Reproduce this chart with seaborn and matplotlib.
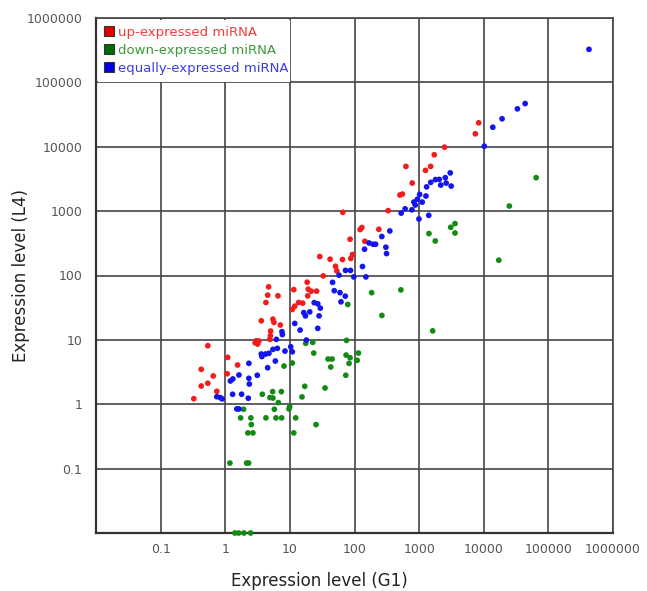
import matplotlib
matplotlib.use("Agg")
import matplotlib.pyplot as plt
from matplotlib.lines import Line2D
from matplotlib.patches import Rectangle
import seaborn as sns
import pandas as pd

# ---- data ----
up_x = [8360, 7410, 2470, 1715, 624, 1508, 1253, 782, 551, 504, 332, 65.9, 130, 122, 238,
        85.5, 144.5, 29.0, 41.9, 65.2, 87.7, 93.1, 50.8, 53.2, 32.8, 18.5, 19.2, 21.4, 25.9,
        18.9, 15.8, 11.5, 13.7, 11.9, 10.9, 4.69, 4.53, 6.54, 4.26, 5.47, 5.67, 3.61, 7.12,
        5.04, 4.99, 4.91, 3.02, 3.32, 2.90, 3.17, 0.537, 1.09, 1.55, 0.425, 0.652, 1.07,
        0.537, 0.425, 0.741, 0.326]
up_y = [23550, 15900, 9860, 7510, 4950, 4950, 4290, 2730, 1841, 1778, 1018, 958, 555, 517,
        522, 366, 340, 197, 179, 177, 184, 212, 139, 118, 98.6, 78.7, 61.3, 57.1, 57.1, 48.3,
        37.2, 60.3, 38.1, 33.4, 29.7, 66.6, 49.5, 48.3, 38.1, 21.0, 18.7, 19.8, 17.0, 13.7,
        11.6, 10.2, 9.68, 9.58, 9.02, 8.61, 8.11, 5.35, 4.07, 3.49, 2.75, 2.98, 2.12, 1.92,
        1.59, 1.22]

down_x = [64700, 24900, 3590, 3080, 3590, 1419, 1778, 17100, 522, 1620, 184, 78.7, 265,
          75.2, 17.6, 22.6, 23.4, 10.9, 74.1, 85.5, 115, 110, 82.4, 39.0, 45.0, 42.9, 73.3,
          17.0, 35.0, 15.4, 9.93, 9.68, 12.3, 25.4, 8.11, 3.75, 5.41, 7.38, 4.91, 5.47, 6.63,
          5.75, 1.92, 1.73, 2.49, 4.26, 6.09, 7.46, 2.53, 2.24, 2.68, 11.5, 1.18, 2.14, 2.30,
          1.41, 1.61, 1.94, 2.47]
down_y = [3310, 1200, 640, 561, 457, 448, 344, 173, 59.8, 13.8, 54.1, 35.5, 24.0, 9.83,
          8.83, 9.15, 6.24, 4.37, 5.81, 5.28, 6.24, 4.81, 4.32, 5.04, 5.04, 3.79, 2.82, 1.90,
          1.79, 1.30, 0.918, 0.846, 0.614, 0.483, 3.92, 1.43, 1.57, 1.57, 1.27, 1.25, 1.06,
          0.836, 0.836, 0.614, 0.614, 0.614, 0.614, 0.614, 0.483, 0.359, 0.359, 0.359, 0.122,
          0.122, 0.122, 0.01, 0.01, 0.01, 0.01]

equal_x = [425000, 43700, 33200, 19200, 13800, 10200, 3030, 2540, 2050, 1790, 1513, 1307,
           2160, 2620, 3130, 1275, 1018, 942, 1117, 830, 871, 607, 528, 773, 1409, 993, 352,
           265, 168, 194, 212, 143, 306, 313, 133, 72.5, 86.7, 57.7, 97.5, 150, 45.8, 48.6,
           59.6, 72.0, 61.8, 23.8, 27.0, 29.6, 28.3, 17.4, 16.4, 20.3, 11.9, 14.4, 27.0, 18.0,
           10.3, 10.9, 7.54, 7.65, 6.18, 8.40, 6.40, 5.47, 4.74, 4.22, 3.61, 3.69, 5.96, 4.53,
           2.32, 1.63, 3.13, 2.32, 2.36, 1.31, 1.20, 1.30, 1.79, 2.27, 0.741, 0.836, 0.898,
           1.51, 1.63]
equal_y = [326000, 46900, 38800, 27200, 20100, 10200, 3930, 3310, 3110, 3090, 2800, 2380,
           2540, 2730, 2450, 1715, 1820, 1535, 1380, 1384, 1244, 1086, 931, 1047, 861, 755,
           492, 403, 320, 306, 306, 256, 275, 219, 138, 120, 120, 101, 95.1, 95.1, 78.2, 58.1,
           54.1, 47.8, 39.0, 37.9, 36.3, 31.1, 23.6, 23.6, 26.5, 27.2, 18.0, 14.2, 15.1, 9.93,
           7.82, 6.54, 13.4, 12.1, 10.2, 6.70, 7.38, 7.12, 6.18, 6.03, 6.03, 5.51, 4.69, 3.69,
           4.32, 2.85, 2.82, 2.53, 2.06, 2.47, 2.30, 1.43, 1.43, 1.24, 1.31, 1.27, 1.21, 0.846,
           0.846]

groups = ["up-expressed miRNA", "down-expressed miRNA", "equally-expressed miRNA"]
tick_values = [0.1, 1, 10, 100, 1000, 10000, 100000, 1000000]
tick_labels = ["0.1", "1", "10", "100", "1000", "10000", "100000", "1000000"]

df = pd.DataFrame({
    "G1": up_x + down_x + equal_x,
    "L4": up_y + down_y + equal_y,
    "group": [groups[0]] * len(up_x) + [groups[1]] * len(down_x) + [groups[2]] * len(equal_x),
})

# ---- styling ----
sns.set_style("white")
plt.rcParams["font.family"] = ["DejaVu Sans"]

dot_colors = {groups[0]: "#f21c1c", groups[1]: "#138a13", groups[2]: "#1414ee"}
legend_text_colors = ["#f03c3c", "#3a9a3a", "#3c3ce6"]
legend_box_colors = ["#e00000", "#006e00", "#0000e0"]

fig = plt.figure(figsize=(6.47, 5.91), dpi=100)
ax = fig.add_axes([96 / 647, 1 - 533 / 591, 517 / 647, 515 / 591])

sns.scatterplot(data=df, x="G1", y="L4", hue="group", palette=dot_colors,
                s=17, linewidth=0, legend=False, ax=ax, clip_on=False, zorder=3)

ax.set_xscale("log")
ax.set_yscale("log")
ax.set_xlim(0.01, 1e6)
ax.set_ylim(0.01, 1e6)
ax.minorticks_off()
ax.set_xticks(tick_values)
ax.set_xticklabels(tick_labels)
ax.set_yticks(tick_values)
ax.set_yticklabels(tick_labels)
ax.tick_params(axis="both", which="major", length=4, width=1.2, color="#333333",
               labelsize=9, labelcolor="#555555", direction="out")
ax.tick_params(axis="x", pad=3)
ax.tick_params(axis="y", pad=6)

ax.grid(True, which="major", color="#444444", linewidth=1.2)
ax.set_axisbelow(True)
for side, sp in ax.spines.items():
    sp.set_visible(True)
    sp.set_color("#444444")
    sp.set_linewidth(1.2)
ax.spines["left"].set_color("#333333")
ax.spines["bottom"].set_color("#333333")
ax.spines["left"].set_linewidth(1.6)
ax.spines["bottom"].set_linewidth(1.6)

ax.set_xlabel("Expression level (G1)", fontsize=12, color="#222222")
ax.set_ylabel("Expression level (L4)", fontsize=12, color="#222222")
ax.xaxis.set_label_coords(0.433, -0.075)
ax.yaxis.set_label_coords(-0.128, 0.5)

# white legend area covering the top-left grid cells (as in the reference)
ax.add_patch(Rectangle((0.003, 0.876), 0.372, 0.121, transform=ax.transAxes,
                       facecolor="white", edgecolor="none", zorder=1.5))

handles = [Line2D([0], [0], marker="s", linestyle="none", markersize=6.5,
                  markerfacecolor=c, markeredgecolor="#333333", markeredgewidth=0.8)
           for c in legend_box_colors]
leg = ax.legend(handles, groups, loc="upper left", bbox_to_anchor=(0.0, 1.0),
                frameon=False, fontsize=9.5, handlelength=0.7, handletextpad=0.35,
                labelspacing=0.38, borderaxespad=0.3, borderpad=0.3)
for t, c in zip(leg.get_texts(), legend_text_colors):
    t.set_color(c)

fig.savefig("out.png", dpi=100)
